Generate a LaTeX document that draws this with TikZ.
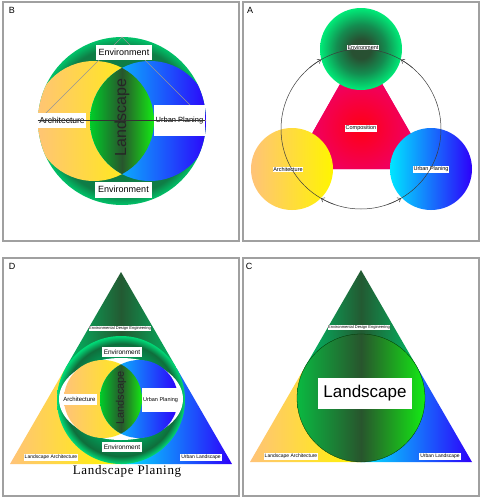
\documentclass[tikz,border=0pt]{standalone}
\usepackage{fontspec}
\setmainfont{Liberation Sans}
\newfontfamily\serifD[LetterSpace=5]{Liberation Serif}
\usetikzlibrary{arrows.meta}
\definecolor{frameC}{RGB}{160,160,160}
\definecolor{orgL}{RGB}{255,195,120}
\definecolor{yelR}{RGB}{255,245,0}
\definecolor{cyaL}{RGB}{0,230,255}
\definecolor{bluR}{RGB}{45,0,250}
\definecolor{lensL}{RGB}{0,205,40}
\definecolor{lensM}{RGB}{40,85,45}
\definecolor{lensR}{RGB}{20,235,20}
\definecolor{cirL}{RGB}{10,185,65}
\definecolor{ringIn}{RGB}{15,125,70}
\definecolor{ringOut}{RGB}{0,195,105}
\definecolor{ringDa}{RGB}{0,160,90}
\definecolor{ringDb}{RGB}{15,110,60}
\definecolor{ringDc}{RGB}{0,220,120}
\definecolor{envIn}{RGB}{40,80,50}
\definecolor{envMid}{RGB}{20,140,80}
\definecolor{envOut}{RGB}{0,235,120}
\definecolor{magIn}{RGB}{255,0,20}
\definecolor{magOut}{RGB}{230,0,150}
\definecolor{triG1}{RGB}{0,185,100}
\definecolor{triG2}{RGB}{35,90,50}
\definecolor{arcC}{RGB}{60,60,60}
\definecolor{lineG}{RGB}{150,150,150}
\pgfdeclareradialshading{ringB}{\pgfpointorigin}{color(0bp)=(ringIn); color(22bp)=(ringIn); color(25bp)=(ringOut); color(50bp)=(ringOut)}
\pgfdeclareradialshading{ringD}{\pgfpointorigin}{color(0bp)=(ringDa); color(16bp)=(ringDa); color(22bp)=(ringDb); color(25bp)=(ringDc); color(50bp)=(ringDc)}
\pgfdeclareradialshading{envR}{\pgfpointorigin}{color(0bp)=(envIn); color(6bp)=(envIn); color(15bp)=(envMid); color(25bp)=(envOut); color(50bp)=(envOut)}
\pgfdeclareradialshading{magR}{\pgfpointorigin}{color(0bp)=(magIn); color(25bp)=(magOut); color(50bp)=(magOut)}
\pgfdeclarehorizontalshading{lensH}{100bp}{color(0bp)=(lensL); color(25bp)=(lensL); color(50bp)=(lensM); color(75bp)=(lensR); color(100bp)=(lensR)}
\pgfdeclarehorizontalshading{cirH}{100bp}{color(0bp)=(cirL); color(25bp)=(cirL); color(50bp)=(lensM); color(75bp)=(lensR); color(100bp)=(lensR)}
\pgfdeclarehorizontalshading{triH}{100bp}{color(0bp)=(triG1); color(25bp)=(triG1); color(50bp)=(triG2); color(75bp)=(triG1); color(100bp)=(triG1)}
\pgfdeclarehorizontalshading{yelH}{100bp}{color(0bp)=(orgL); color(25bp)=(orgL); color(75bp)=(yelR); color(100bp)=(yelR)}
\pgfdeclarehorizontalshading{bluH}{100bp}{color(0bp)=(cyaL); color(25bp)=(cyaL); color(75bp)=(bluR); color(100bp)=(bluR)}
\tikzset{
  frm/.style={draw=frameC, line width=1.2pt},
  fs/.style={font=\fontsize{#1}{#1}\selectfont},
  pl/.style={fs=9, inner sep=0pt},
  wbox/.style={fill=white, inner sep=0.6pt, text=black},
  circA/.style={circle, minimum size=82pt, inner sep=0pt},
  thinG/.style={draw=lineG, line width=0.4pt},
  hl/.style={draw=black!80, line width=0.4pt},
  arcl/.style={draw=arcC, line width=0.5pt},
  tip/.style={arcl, -{Straight Barb[length=3pt,width=5pt]}}
}
\begin{document}
\begin{tikzpicture}[x=1pt,y=1pt]
\useasboundingbox (0,-498) rectangle (482,0);
\fill[white] (0,-498) rectangle (482,0);

% ---------------- Panel B ----------------
\draw[frm] (3,-2) rectangle (239,-241);
\node[pl] (labB) at (12,-10) {B};
\shade[shading=ringB] (122,-121) circle (84);
\begin{scope}
  \clip (122,-121) circle (84);
  \shade[shading=yelH] (94,-121) circle (60);
  \shade[shading=bluH] (150,-121) circle (60);
\end{scope}
\begin{scope}
  \clip (94,-121) circle (60);
  \clip (150,-121) circle (60);
  \shade[shading=lensH] (90,-60) rectangle (154,-182);
\end{scope}
\draw[thinG] (38,-121) -- (122,-37) -- (206,-121);
\node[wbox, fs=7.5, minimum width=51pt, minimum height=31pt] (upB) at (179.5,-120.5) {Urban Planing};
\node[wbox, fs=8.5, minimum width=48pt, minimum height=15pt] (arB) at (62,-120.5) {Architecture};
\draw[hl] (arB.west) -- (upB.east);
\node[fs=16, rotate=90, inner sep=0pt, text=black!85] (lsB) at (122,-117.5) {Landscape};
\node[wbox, fs=9, minimum width=56pt, minimum height=15pt] (envB1) at (124,-52.5) {Environment};
\node[wbox, fs=9, minimum width=57pt, minimum height=16pt] (envB2) at (123.5,-189.5) {Environment};

% ---------------- Panel A ----------------
\draw[frm] (243,-2) rectangle (479,-241);
\node[pl] (labA) at (250,-10) {A};
\begin{scope}
  \clip (361,-47) -- (292,-169) -- (431,-169) -- cycle;
  \fill[magOut] (280,-40) rectangle (440,-175);
  \shade[shading=magR] (361,-128) circle (82);
\end{scope}
\shade[shading=envR] (361,-49) circle (41);
\node[circA] (envA) at (361,-47) {};
\shade[shading=yelH] (292,-169) circle (41);
\node[circA] (arA) at (292,-169) {};
\shade[shading=bluH] (431,-169) circle (41);
\node[circA] (upA) at (431,-169) {};
\node[wbox, fs=5.5] (envAl) at (363,-47.5) {Environment};
\node[wbox, fs=5.5] (coA) at (361,-128.5) {Composition};
\node[wbox, fs=5.5] (arAl) at (288,-169.5) {Architecture};
\node[wbox, fs=5.5] (upAl) at (431,-169.5) {Urban Planing};
\coordinate (ringA) at (361,-129);
\draw[arcl] (ringA) circle (80);
\draw[tip] (ringA) ++(130:80) arc[start angle=130, end angle=120, radius=80];
\draw[tip] (ringA) ++(50:80) arc[start angle=50, end angle=60, radius=80];
\draw[tip] (ringA) ++(250:80) arc[start angle=250, end angle=240, radius=80];
\draw[tip] (ringA) ++(290:80) arc[start angle=290, end angle=300, radius=80];

% ---------------- Panel D ----------------
\draw[frm] (3,-258) rectangle (239,-496);
\node[pl] (labD) at (12,-266) {D};
\shade[shading=yelH] (121,-400) -- (65.5,-368) -- (10,-464) -- (121,-464) -- cycle;
\shade[shading=bluH] (121,-400) -- (121,-464) -- (232,-464) -- (176.5,-368) -- cycle;
\shade[shading=triH] (121,-400) -- (65.5,-368) -- (121,-272) -- (176.5,-368) -- cycle;
\shade[shading=ringD] (121,-400) circle (64);
\fill[white] (121,-399) ellipse [x radius=62, y radius=41];
\shade[shading=yelH] (103,-399) circle (39);
\shade[shading=bluH] (139,-399) circle (39);
\begin{scope}
  \clip (103,-399) circle (39);
  \clip (139,-399) circle (39);
  \shade[shading=lensH] (100,-358) rectangle (142,-440);
\end{scope}
\node[wbox, fs=5.5, minimum width=35pt, minimum height=24pt] (upD) at (160.5,-400) {Urban Planing};
\node[wbox, fs=6, minimum width=35pt, minimum height=11pt] (arD) at (79.5,-399.5) {Architecture};
\node[fs=11, rotate=90, inner sep=0pt, text=black!85] (lsD) at (121,-398) {Landscape};
\node[wbox, fs=6.5, minimum width=40pt, minimum height=10pt] (envD1) at (122,-352) {Environment};
\node[wbox, fs=6.5, minimum width=40pt, minimum height=10pt] (envD2) at (122,-447) {Environment};
\node[wbox, fs=4, inner sep=0.5pt] (edeD) at (120,-328.5) {Environmental Design Engineering};
\node[wbox, fs=5, inner sep=0.8pt] (laD) at (51,-457.5) {Landscape Architecture};
\node[wbox, fs=5, inner sep=0.8pt] (ulD) at (201,-457.5) {Urban Landscape};
\node[font=\serifD\fontsize{13}{13}\selectfont, inner sep=0pt] (lpD) at (127,-471) {Landscape Planing};

% ---------------- Panel C ----------------
\draw[frm] (243,-258) rectangle (479,-496);
\node[pl] (labC) at (249,-266) {C};
\shade[shading=yelH] (361,-398) -- (305.5,-366) -- (250,-462) -- (361,-462) -- cycle;
\shade[shading=bluH] (361,-398) -- (361,-462) -- (472,-462) -- (416.5,-366) -- cycle;
\shade[shading=triH] (361,-398) -- (305.5,-366) -- (361,-270) -- (416.5,-366) -- cycle;
\shade[shading=cirH] (361,-398) circle (64);
\draw[draw=black!50!green!40!black, line width=0.3pt] (361,-398) circle (64);
\node[wbox, fs=4, inner sep=0.5pt] (edeC) at (359,-327.5) {Environmental Design Engineering};
\node[wbox, fs=17, minimum width=94pt, minimum height=31pt] (lsC) at (365,-393.5) {Landscape};
\node[wbox, fs=5, inner sep=0.8pt] (laC) at (291,-456.5) {Landscape Architecture};
\node[wbox, fs=5, inner sep=0.8pt] (ulC) at (440,-456.5) {Urban Landscape};
\end{tikzpicture}
\end{document}
